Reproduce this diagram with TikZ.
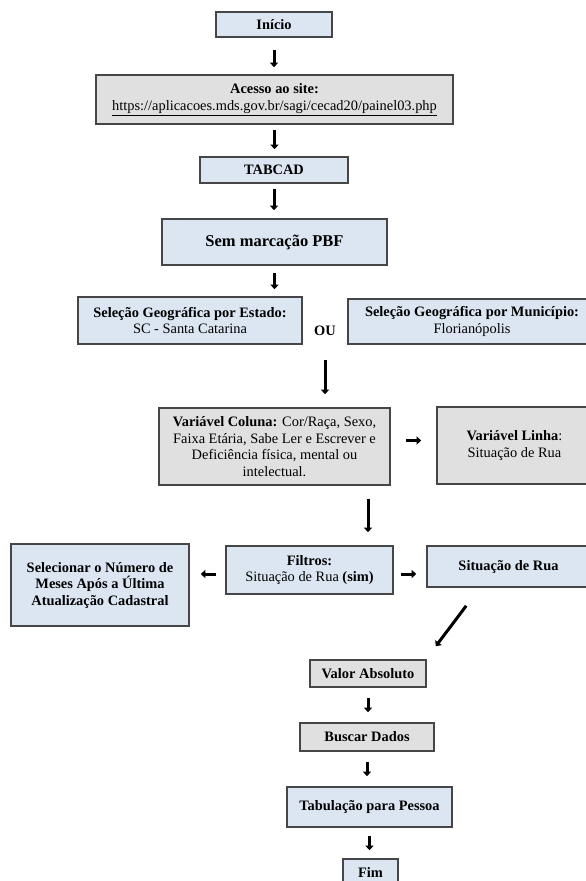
\documentclass[tikz,border=0pt]{standalone}
\usepackage{fontspec}
\setmainfont{Liberation Serif}
\usetikzlibrary{arrows.meta}
\definecolor{boxblue}{RGB}{220,230,242}
\definecolor{boxgray}{RGB}{224,224,224}
\definecolor{edgegray}{RGB}{70,70,70}
\begin{document}
\begin{tikzpicture}[x=1pt,y=-1pt,
    font=\rmfamily\fontsize{14.4}{16.5}\selectfont,
    bluebox/.style={draw=edgegray,line width=1.6pt,fill=boxblue,align=center,inner sep=0pt},
    graybox/.style={draw=edgegray,line width=1.6pt,fill=boxgray,align=center,inner sep=0pt},
    arr/.style={line width=3pt,-{Triangle[length=4.5pt,width=8pt]}}]
    \useasboundingbox (0,0) rectangle (586,881);
    \clip (0,0) rectangle (586,881);
    % main column
    \node[bluebox,minimum width=116,minimum height=25] (inicio) at (274,24.5) {\textbf{Início}};
    \node[graybox,minimum width=357,minimum height=49] (acesso) at (274.5,99.5)
        {\textbf{Acesso ao site:}\\\underline{https://aplicacoes.mds.gov.br/sagi/cecad20/painel03.php}};
    \node[bluebox,minimum width=148,minimum height=26] (tabcad) at (274,170) {\textbf{TABCAD}};
    \node[bluebox,minimum width=225,minimum height=46,font=\rmfamily\bfseries\fontsize{16.5}{19}\selectfont] (sem) at (274.5,242)
        {Sem marcação PBF};
    \node[bluebox,minimum width=224,minimum height=47] (estado) at (190,320.5)
        {\textbf{Seleção Geográfica por Estado:}\\SC - Santa Catarina};
    \node[inner sep=0pt] (ou) at (325,331) {\textbf{OU}};
    \node[bluebox,minimum width=248,minimum height=45] (municipio) at (472,321.5)
        {\textbf{Seleção Geográfica por Município:}\\Florianópolis};
    \node[graybox,minimum width=231,minimum height=77] (var) at (274.5,446.5)
        {\textbf{Variável Coluna:} Cor/Raça, Sexo,\\Faixa Etária, Sabe Ler e Escrever e\\Deficiência física, mental ou\\intelectual.};
    \node[graybox,minimum width=155,minimum height=77] (linha) at (514.5,445.5)
        {\textbf{Variável Linha}:\\Situação de Rua};
    \node[bluebox,minimum width=167,minimum height=48] (filtros) at (309.5,570)
        {\textbf{Filtros:}\\Situação de Rua \textbf{(sim)}};
    \node[bluebox,minimum width=178,minimum height=82] (sel) at (100,585)
        {\textbf{Selecionar o Número de}\\\textbf{Meses Após a Última}\\\textbf{Atualização Cadastral}};
    \node[bluebox,minimum width=163,minimum height=41] (sit) at (508.5,566.5) {\textbf{Situação de Rua}};
    \node[graybox,minimum width=116,minimum height=27] (valor) at (368,673.5) {\textbf{Valor Absoluto}};
    \node[graybox,minimum width=134,minimum height=28] (buscar) at (367,737) {\textbf{Buscar Dados}};
    \node[bluebox,minimum width=165,minimum height=40] (tab) at (369.5,807) {\textbf{Tabulação para Pessoa}};
    \node[bluebox,minimum width=55,minimum height=26] (fim) at (370.5,872) {\textbf{Fim}};
    % arrows
    \draw[arr,shorten <=12pt,shorten >=7pt] (inicio.south) -- (inicio.south |- acesso.north);
    \draw[arr,shorten <=5pt,shorten >=7pt] (acesso.south) -- (acesso.south |- tabcad.north);
    \draw[arr,shorten <=5pt,shorten >=8pt] (tabcad.south) -- (tabcad.south |- sem.north);
    \draw[arr,shorten <=7pt,shorten >=7pt] (sem.south) -- (sem.south |- estado.north);
    \draw[arr,shorten <=24pt,shorten >=13pt] (ou.south) -- (ou.south |- var.north);
    \draw[arr,shorten <=15pt,shorten >=15pt] ([yshift=6pt]var.east) -- ([yshift=6pt]var.east -| linha.west);
    \draw[arr,shorten <=13pt,shorten >=13pt] ([xshift=93.5pt]var.south) -- ([xshift=93.5pt]var.south |- filtros.north);
    \draw[arr,shorten <=9pt,shorten >=11pt] ([yshift=-4pt]filtros.west) -- ([yshift=-4pt]filtros.west -| sel.east);
    \draw[arr,shorten <=7pt,shorten >=10pt] ([yshift=-4pt]filtros.east) -- ([yshift=-4pt]filtros.east -| sit.west);
    \draw[arr] ([xshift=40pt,yshift=-18pt]sit.south west) -- ([xshift=9pt,yshift=13pt]valor.north east);
    \draw[arr,shorten <=10pt,shorten >=10pt] (valor.south) -- (valor.south |- buscar.north);
    \draw[arr,shorten <=10pt,shorten >=10pt] (buscar.south) -- (buscar.south |- tab.north);
    \draw[arr,shorten <=8pt,shorten >=8pt] (tab.south) -- (tab.south |- fim.north);
\end{tikzpicture}
\end{document}
